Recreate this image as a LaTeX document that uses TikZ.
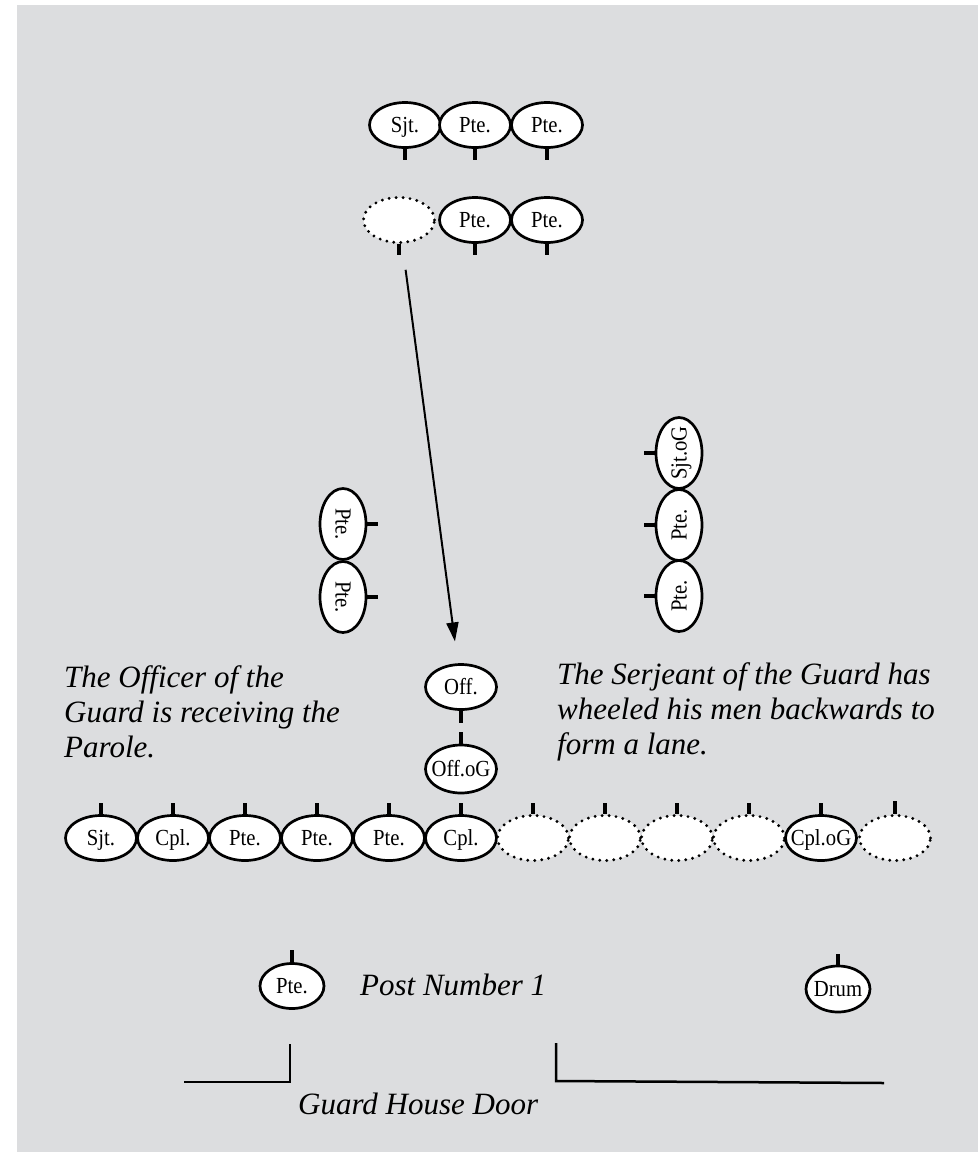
\documentclass[tikz,border=0pt]{standalone}
\usepackage{fontspec}
\setmainfont{Liberation Serif}
\newfontfamily\tagfont[FakeStretch=0.9]{Liberation Serif}
\usetikzlibrary{shapes.geometric,arrows.meta}
\definecolor{guardgray}{HTML}{DCDDDF}
\tikzset{
    body/.style={draw, ellipse, fill=white, line width=2.7pt, inner sep=0pt},
    man/.style={body, minimum width=71pt, minimum height=45pt, label={center:#1}},
    lman/.style={body, minimum width=46pt, minimum height=71pt, label={[rotate=-90]center:#1}},
    rman/.style={body, minimum width=46pt, minimum height=71pt, label={[rotate=90]center:#1}},
    vacant/.style={body, minimum width=71pt, minimum height=45pt, dash pattern=on 0pt off 7pt, line cap=round, line width=3.2pt},
    every label/.style={inner sep=0pt, text height=15pt, text depth=0pt},
    facing/.style={line width=3.3pt},
    wall/.style={line width=2.5pt},
    note/.style={font=\fontsize{31}{35}\selectfont\itshape, inner sep=0pt, align=left}
}
\begin{document}
\begin{tikzpicture}[x=1pt, y=-1pt, >={Triangle[length=19pt,width=12pt]}, font=\tagfont\fontsize{23}{26}\selectfont]
\useasboundingbox (0,0) rectangle (978,1152);
\fill[guardgray] (17,5) rectangle (978,1152);

\node[man=Sjt.] (t1) at (405,125) {};
\node[man=Pte.] (t2) at (475,125) {};
\node[man=Pte.] (t3) at (547,125) {};
\node[vacant] (d0) at (399,220) {};
\node[man=Pte.] (t5) at (475,220) {};
\node[man=Pte.] (t6) at (547,220) {};
\foreach \n in {t1,t2,t3,d0,t5,t6}
{
    \draw[facing](\n.south)--++(0,11);
}

\node[lman=Pte.] (l1) at (343,524) {};
\node[lman=Pte.] (l2) at (343,597) {};
\foreach \n in {l1,l2}
    \draw[facing](\n.east)--++(11,0);

\node[rman=Sjt.oG] (r1) at (679,453) {};
\node[rman=Pte.] (r2) at (679,525) {};
\node[rman=Pte.] (r3) at (679,596) {};
\foreach \n in {r1,r2,r3}
    \draw[facing](\n.west)--++(-11,0);

\node[man=Off.] (off) at (461,687) {};
\node[man=Off.oG, minimum height=48pt] (offg) at (461,769) {};
\draw[facing](off.south)--++(0,12);
\draw[facing](offg.north)--++(0,-12);
\draw[->, line width=2pt, shorten <=26pt, shorten >=22pt](d0)--(off);

\foreach \x/\t [count=\i] in {101/Sjt.,173/Cpl.,245/Pte.,317/Pte.,389/Pte.,461/Cpl.}
    \node[man=\t] (b\i) at (\x,838) {};
\foreach \x [count=\i from 7] in {533,605,677,749}
    \node[vacant] (b\i) at (\x,838) {};
\node[man=Cpl.oG] (b11) at (821,838) {};
\node[vacant] (b12) at (895,838) {};
\foreach \i in {1,...,11}
{
    \draw[facing](b\i.north)--++(0,-11);
}
\draw[facing](b12.north)--++(0,-13);

\node[man=Pte., minimum width=64pt] (post) at (292,986) {};
\node[man=Drum, minimum width=64pt, minimum height=46pt] (drum) at (838,989) {};
\draw[facing](post.north)--++(0,-12);
\draw[facing](drum.north)--++(0,-11);

\node[note, anchor=west] (officer) at (64,712) {The Officer of the\\Guard is receiving the\\Parole.};
\node[note, anchor=west] (serjeant) at (557,712) {The Serjeant of the Guard has\\wheeled his men backwards to\\form a lane.};
\node[note, anchor=base west] (postno) at (360,995) {Post Number 1};
\node[note, anchor=base west] (door) at (298,1114) {Guard House Door};

\draw[wall](184,1082)--(290,1082)--(290,1044);
\draw[wall](556,1043)--(556,1081)--(884,1083);
\end{tikzpicture}
\end{document}
